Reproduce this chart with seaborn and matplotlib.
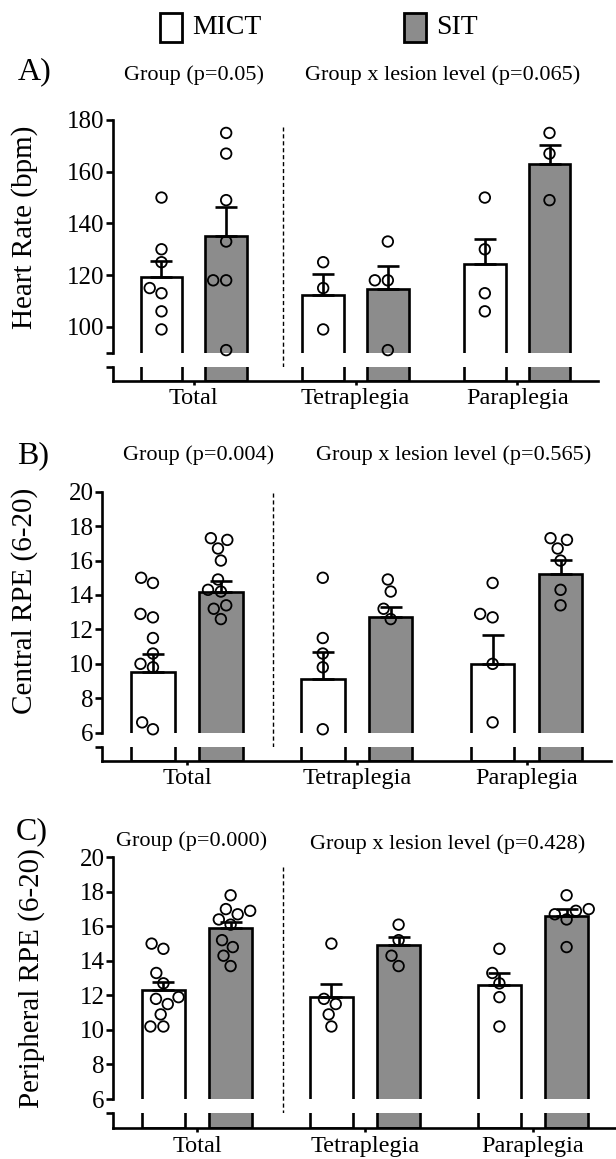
import numpy as np
import pandas as pd
import matplotlib.pyplot as plt
from matplotlib.patches import Rectangle
import seaborn as sns

# categories
regions = ['Total', 'Tetraplegia', 'Paraplegia']
groups = ['MICT', 'SIT']

# A) heart rate (bpm) - individual points, Total = tetra + para
hr_tetra_mict = [125, 115, 99]
hr_para_mict = [150, 130, 113, 106]
hr_tetra_sit = [133, 118, 118, 91]
hr_para_sit = [175, 167, 149]
hr_mean_mict = [119.4, 112.5, 124.3]
hr_mean_sit = [135.2, 114.6, 162.8]
hr_sem_mict = [6.2, 7.8, 9.7]
hr_sem_sit = [11.3, 8.9, 7.5]

# B) central RPE (6-20)
c_tetra_mict = [15.0, 11.5, 10.6, 9.8, 6.2]
c_para_mict = [14.7, 12.9, 12.7, 10.0, 6.6]
c_tetra_sit = [14.9, 14.2, 13.2, 12.6]
c_para_sit = [17.3, 17.2, 16.7, 16.0, 14.3, 13.4]
c_mean_mict = [9.5, 9.1, 10.0]
c_mean_sit = [14.2, 12.7, 15.2]
c_sem_mict = [1.1, 1.6, 1.65]
c_sem_sit = [0.62, 0.62, 0.82]

# C) peripheral RPE (6-20)
p_tetra_mict = [15.0, 11.8, 11.5, 10.9, 10.2]
p_para_mict = [14.7, 13.3, 12.7, 11.9, 10.2]
p_tetra_sit = [16.1, 15.2, 14.3, 13.7]
p_para_sit = [17.8, 17.0, 16.9, 16.7, 16.4, 14.8]
p_mean_mict = [12.3, 11.9, 12.6]
p_mean_sit = [15.9, 14.9, 16.6]
p_sem_mict = [0.48, 0.79, 0.71]
p_sem_sit = [0.34, 0.51, 0.43]

SIT_GREY = '#8c8c8c'
bar_pal = {'MICT': 'white', 'SIT': SIT_GREY}
pt_pal = {'MICT': 'white', 'SIT': 'white'}
LW = 1.9

sns.set_theme(style='ticks', rc={'axes.edgecolor': 'black', 'xtick.color': 'black',
                                 'ytick.color': 'black', 'text.color': 'black',
                                 'axes.labelcolor': 'black', 'axes.linewidth': LW})
plt.rcParams['font.family'] = ['Liberation Serif', 'DejaVu Serif']

W, H = 616, 1159
fig = plt.figure(figsize=(W / 100, H / 100), dpi=100)


def box(left, top, right, bottom):
    # pixel box -> figure fraction
    return [left / W, 1 - bottom / H, (right - left) / W, (bottom - top) / H]


def fx(x):
    return x / W


def fy(y):
    return 1 - y / H


def draw_panel(top_px, bot_px, means, sems, tetra, para, ylim, yticks, yticklabels, dash_x, dash_top):
    bars = pd.DataFrame({'region': regions * 2,
                         'group': ['MICT'] * 3 + ['SIT'] * 3,
                         'value': list(means[0]) + list(means[1])})
    rows = []
    for grp, tet, par in zip(groups, tetra, para):
        for reg, vals in [('Total', tet + par), ('Tetraplegia', tet), ('Paraplegia', par)]:
            rows += [(reg, grp, v) for v in vals]
    pts = pd.DataFrame(rows, columns=['region', 'group', 'value'])

    # upper part of the broken axis
    ax = fig.add_axes(box(*top_px))
    sns.barplot(data=bars, x='region', y='value', hue='group', order=regions, hue_order=groups,
                palette=bar_pal, width=0.8, gap=0.36, edgecolor='black', linewidth=LW,
                errorbar=None, legend=False, ax=ax, zorder=2)
    xs = [p.get_x() + p.get_width() / 2 for p in ax.patches]
    ys = [p.get_height() for p in ax.patches]
    err = list(sems[0]) + list(sems[1])
    ax.errorbar(xs, ys, yerr=[np.zeros(len(err)), err], fmt='none', ecolor='black',
                elinewidth=LW, capsize=8, capthick=LW, zorder=3)

    n0 = len(ax.collections)
    sns.swarmplot(data=pts, x='region', y='value', hue='group', order=regions, hue_order=groups,
                  dodge=True, palette=pt_pal, size=7.6, linewidth=1.3, edgecolor='black',
                  legend=False, ax=ax, zorder=4, clip_on=False)
    for coll in ax.collections[n0:]:
        coll.set_facecolor('none')
        coll.set_edgecolor('black')
        coll.set_linewidth(1.3)

    ax.set_xlim(-0.5, 2.5)
    ax.set_ylim(*ylim)
    ax.set_yticks(yticks)
    ax.set_yticklabels(yticklabels, fontsize=18)
    ax.set_xticks([])
    ax.set_xlabel('')
    ax.set_ylabel('')
    for s in ['top', 'right', 'bottom']:
        ax.spines[s].set_visible(False)
    ax.tick_params(axis='y', direction='out', length=5, width=LW, pad=1)

    # dashed separator, running down to the x axis
    t, b = top_px[1], top_px[3]
    f_top = (b - dash_top) / (b - t)
    f_low = (b - bot_px[3]) / (b - t)
    ax.plot([dash_x, dash_x], [f_low, f_top], transform=ax.get_xaxis_transform(),
            color='black', lw=1, ls=(0, (3, 2)), clip_on=False, zorder=1)

    # lower stub of the broken axis
    ax2 = fig.add_axes(box(*bot_px))
    sns.barplot(data=bars, x='region', y='value', hue='group', order=regions, hue_order=groups,
                palette=bar_pal, width=0.8, gap=0.36, edgecolor='black', linewidth=LW,
                errorbar=None, legend=False, ax=ax2)
    ax2.set_xlim(-0.5, 2.5)
    ax2.set_ylim(0, 1)
    ax2.set_yticks([1])
    ax2.set_yticklabels([''])
    ax2.set_xticks(range(3))
    ax2.set_xticklabels(regions, fontsize=17.5)
    ax2.set_xlabel('')
    ax2.set_ylabel('')
    for s in ['top', 'right']:
        ax2.spines[s].set_visible(False)
    ax2.tick_params(axis='y', direction='out', length=5, width=LW)
    ax2.tick_params(axis='x', direction='out', length=3, width=LW, pad=2.5)
    return ax


# A) heart rate
draw_panel((113, 120, 598, 352.7), (113, 367.3, 598, 380.7),
           (hr_mean_mict, hr_mean_sit), (hr_sem_mict, hr_sem_sit),
           (hr_tetra_mict, hr_tetra_sit), (hr_para_mict, hr_para_sit),
           (90, 180), [90, 100, 120, 140, 160, 180], ['', '100', '120', '140', '160', '180'],
           0.549, 127)

# B) central RPE
rpe_ticks = [6, 8, 10, 12, 14, 16, 18, 20]
draw_panel((102, 491.7, 611.5, 732.7), (102, 746.7, 611.5, 760.7),
           (c_mean_mict, c_mean_sit), (c_sem_mict, c_sem_sit),
           (c_tetra_mict, c_tetra_sit), (c_para_mict, c_para_sit),
           (6, 20), rpe_ticks, [str(t) for t in rpe_ticks], 0.507, 493)

# C) peripheral RPE
draw_panel((113, 857.3, 617, 1099), (113, 1113, 617, 1128),
           (p_mean_mict, p_mean_sit), (p_sem_mict, p_sem_sit),
           (p_tetra_mict, p_tetra_sit), (p_para_mict, p_para_sit),
           (6, 20), rpe_ticks, [str(t) for t in rpe_ticks], 0.51, 867)

# y labels
fig.text(fx(25), fy(227), 'Heart Rate (bpm)', rotation=90, ha='center', va='center', fontsize=21)
fig.text(fx(25), fy(601), 'Central RPE (6-20)', rotation=90, ha='center', va='center', fontsize=21)
fig.text(fx(32), fy(978), 'Peripheral RPE (6-20)', rotation=90, ha='center', va='center', fontsize=21)

# panel letters
for lab, x, y in [('A)', 35, 72), ('B)', 33, 456), ('C)', 32, 832)]:
    fig.text(fx(x), fy(y), lab, ha='center', va='center', fontsize=23)

# effect labels
subtitles = [('Group (p=0.05)', 194, 75), ('Group x lesion level (p=0.065)', 443, 75),
             ('Group (p=0.004)', 199, 455), ('Group x lesion level (p=0.565)', 454, 455),
             ('Group (p=0.000)', 192, 841), ('Group x lesion level (p=0.428)', 448, 844)]
for txt, x, y in subtitles:
    fig.text(fx(x), fy(y), txt, ha='center', va='center', fontsize=16)

# legend
for name, x0, fc in [('MICT', 160, 'white'), ('SIT', 404, SIT_GREY)]:
    fig.add_artist(Rectangle((fx(x0), fy(42)), 22 / W, 29 / H, transform=fig.transFigure,
                             facecolor=fc, edgecolor='black', lw=2))
    fig.text(fx(x0 + 32), fy(28), name, ha='left', va='center', fontsize=20)

fig.savefig('out.png', dpi=100)
